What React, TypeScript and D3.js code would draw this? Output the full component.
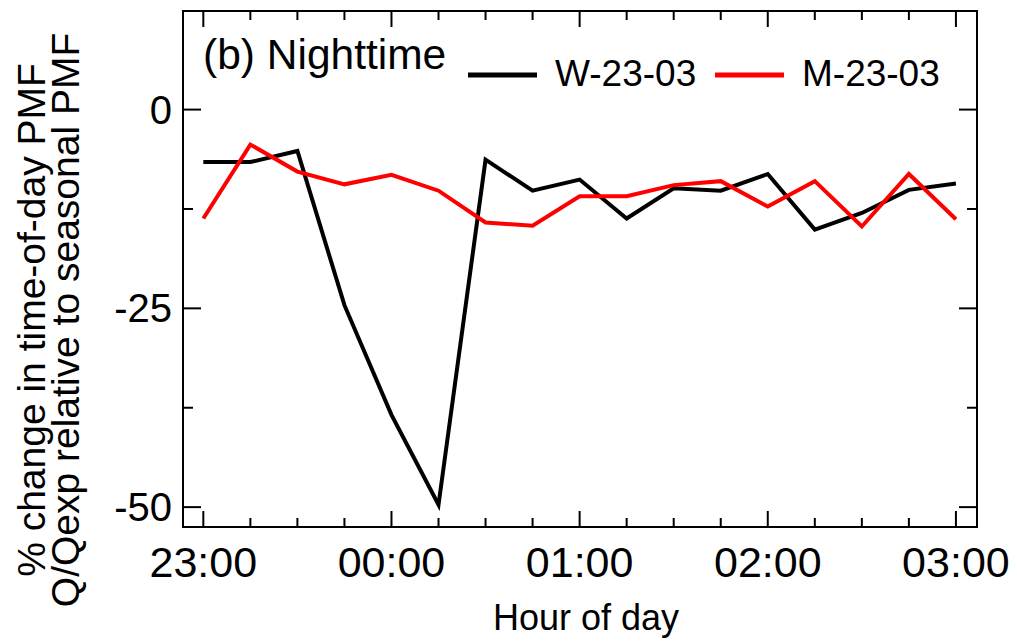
import React from "react";
import * as d3 from "d3";

// hours after 23:00, every 15 minutes
const hours: number[] = [0, 0.25, 0.5, 0.75, 1, 1.25, 1.5, 1.75, 2, 2.25, 2.5, 2.75, 3, 3.25, 3.5, 3.75, 4];
const seriesW: number[] = [-6.6, -6.6, -5.2, -24.6, -38.4, -49.7, -6.3, -10.2, -8.8, -13.7, -9.9, -10.2, -8.1, -15.1, -13.0, -10.1, -9.3];
const seriesM: number[] = [-13.7, -4.4, -7.8, -9.4, -8.2, -10.2, -14.2, -14.6, -10.9, -10.9, -9.5, -9.0, -12.2, -9.0, -14.7, -8.1, -13.8];
const xMajor: number[] = [0, 1, 2, 3, 4];
const xMajorLabels: string[] = ["23:00", "00:00", "01:00", "02:00", "03:00"];
const xMinor: number[] = [0.25, 0.5, 0.75, 1.25, 1.5, 1.75, 2.25, 2.5, 2.75, 3.25, 3.5, 3.75];
const yMajor: number[] = [0, -25, -50];
const yMinor: number[] = [-12.5, -37.5];
const legendNames: string[] = ["W-23-03", "M-23-03"];
const colors: string[] = ["#000000", "#ff0000"];

const FONT = "'Liberation Sans', Arial, Helvetica, sans-serif";

export default function App() {
  const W = 1017, H = 643;
  const left = 183, right = 977, top = 11, bottom = 527;
  const x = d3.scaleLinear().domain([-0.108, 4.112]).range([left, right]);
  const y = d3.scaleLinear().domain([-52.5, 12.4]).range([bottom, top]);
  const line = d3.line<number>().x((_, i) => x(hours[i])).y((d) => y(d));
  const series = [seriesW, seriesM];

  return (
    <svg width={W} height={H} style={{ position: "absolute", left: 0, top: 0, background: "#fff" }} fontFamily={FONT}>
      {/* data lines */}
      {series.map((s, k) => (
        <path key={k} d={line(s) || ""} fill="none" stroke={colors[k]} strokeWidth={4} strokeLinejoin="miter" />
      ))}
      {/* frame */}
      <rect x={left} y={top} width={right - left} height={bottom - top} fill="none" stroke="#000" strokeWidth={2} />
      {/* x ticks bottom & top */}
      {xMajor.map((v) => (
        <g key={"xM" + v}>
          <line x1={x(v)} x2={x(v)} y1={bottom} y2={bottom - 16} stroke="#000" strokeWidth={2} />
          <line x1={x(v)} x2={x(v)} y1={top} y2={top + 16} stroke="#000" strokeWidth={2} />
        </g>
      ))}
      {xMinor.map((v) => (
        <g key={"xm" + v}>
          <line x1={x(v)} x2={x(v)} y1={bottom} y2={bottom - 9} stroke="#000" strokeWidth={2} />
          <line x1={x(v)} x2={x(v)} y1={top} y2={top + 9} stroke="#000" strokeWidth={2} />
        </g>
      ))}
      {/* y ticks left & right */}
      {yMajor.map((v) => (
        <g key={"yM" + v}>
          <line x1={left} x2={left + 18} y1={y(v)} y2={y(v)} stroke="#000" strokeWidth={2} />
          <line x1={right} x2={right - 18} y1={y(v)} y2={y(v)} stroke="#000" strokeWidth={2} />
        </g>
      ))}
      {yMinor.map((v) => (
        <g key={"ym" + v}>
          <line x1={left} x2={left + 10} y1={y(v)} y2={y(v)} stroke="#000" strokeWidth={2} />
          <line x1={right} x2={right - 10} y1={y(v)} y2={y(v)} stroke="#000" strokeWidth={2} />
        </g>
      ))}
      {/* x tick labels */}
      {xMajor.map((v, i) => (
        <text key={"xl" + v} x={x(v)} y={577} textAnchor="middle" fontSize={43} fill="#000">
          {xMajorLabels[i]}
        </text>
      ))}
      {/* y tick labels */}
      {yMajor.map((v) => (
        <text key={"yl" + v} x={172} y={y(v)} dy="0.35em" textAnchor="end" fontSize={40} fill="#000">
          {v}
        </text>
      ))}
      {/* axis titles */}
      <text x={586} y={630} textAnchor="middle" fontSize={36} fill="#000">Hour of day</text>
      <g transform="translate(0,320) rotate(-90)">
        <text x={0} y={45} textAnchor="middle" fontSize={39} fill="#000">% change in time-of-day PMF</text>
        <text x={0} y={79} textAnchor="middle" fontSize={39} fill="#000">Q/Qexp relative to seasonal PMF</text>
      </g>
      {/* panel label */}
      <text x={203} y={69} fontSize={42.5} fill="#000">(b) Nighttime</text>
      {/* legend */}
      <line x1={468} x2={537} y1={75} y2={75} stroke={colors[0]} strokeWidth={5} />
      <text x={555} y={86} fontSize={37} fill="#000">{legendNames[0]}</text>
      <line x1={715} x2={784} y1={75} y2={75} stroke={colors[1]} strokeWidth={5} />
      <text x={802} y={86} fontSize={37} fill="#000">{legendNames[1]}</text>
    </svg>
  );
}
